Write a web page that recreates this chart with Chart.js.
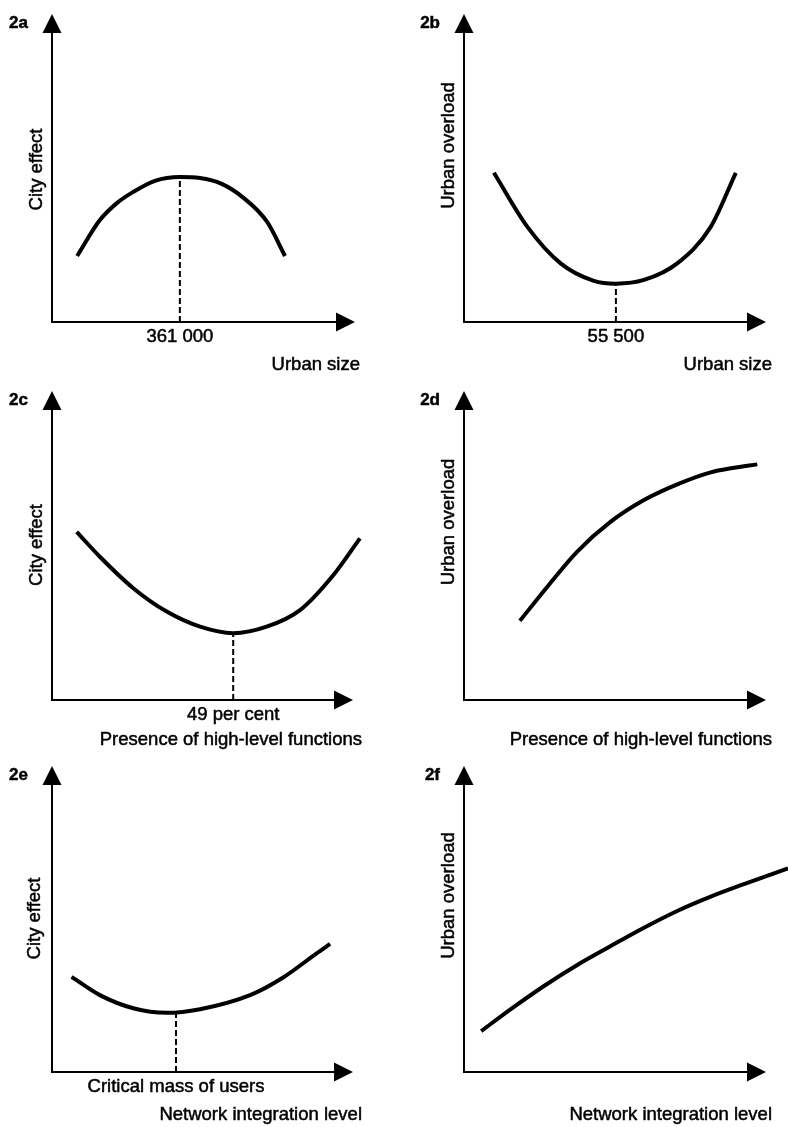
<!DOCTYPE html>
<html>
<head>
<meta charset="utf-8">
<script src="https://cdn.jsdelivr.net/npm/chart.js@4"></script>
<style>
    body { margin: 0; background: #fff; }
    #page { position: relative; width: 788px; height: 1127px; overflow: hidden; background: #fff; }
    #page canvas { position: absolute; }
</style>
</head>
<body>
<div id="page"></div>
<script>
// curve readings, in axis units (0..100 along each arrow)
const curveAx = [8.3, 15.8, 21.5, 26.7, 34.0, 42.2, 48.8, 56.0, 63.0, 71.0, 76.9];
const curveAy = [21.5, 33.2, 38.8, 42.3, 46.0, 47.2, 46.9, 45.0, 40.6, 32.6, 21.5];

const curveBx = [9.9, 21.0, 32.0, 43.0, 50.3, 59.6, 70.6, 81.7, 90.0];
const curveBy = [48.6, 31.0, 19.1, 13.4, 12.5, 13.7, 19.1, 31.0, 48.6];

const curveCx = [8.2, 15.9, 27.0, 38.1, 49.2, 60.2, 71.3, 82.4, 93.5, 102.3];
const curveCy = [54.6, 46.5, 36.3, 28.7, 23.8, 21.7, 23.8, 29.2, 40.6, 52.5];

const curveDx = [18.5, 27.6, 37.5, 48.6, 59.6, 70.6, 81.7, 89.0, 97.1];
const curveDy = [25.7, 36.8, 48.2, 57.9, 64.9, 70.0, 73.9, 75.3, 76.5];

const curveEx = [6.5, 15.9, 27.0, 38.1, 49.2, 65.8, 76.8, 87.9, 92.4];
const curveEy = [31.2, 25.2, 20.9, 19.4, 20.6, 25.2, 31.0, 38.9, 42.0];

const curveFx = [5.7, 15.5, 26.5, 37.5, 48.6, 59.6, 70.6, 81.7, 92.7, 107.3];
const curveFy = [13.4, 20.6, 28.2, 35.1, 41.3, 47.3, 52.8, 57.5, 61.6, 66.8];

// optimum markers (dashed drop line + label on the x axis)
const markerX = [42.2, 50.3, 60.2, null, 41.2, null];
const markerY = [47.2, 12.5, 21.7, null, 19.5, null];
const markerLabels = ["361 000", "55 500", "49 per cent", "", "Critical mass of users", ""];

const panelIds = ["2a", "2b", "2c", "2d", "2e", "2f"];
const yTitles = ["City effect", "Urban overload", "City effect", "Urban overload", "City effect", "Urban overload"];
const xTitles = ["Urban size", "Urban size", "Presence of high-level functions",
                 "Presence of high-level functions", "Network integration level", "Network integration level"];

const FONT = '"Liberation Sans", Arial, Helvetica, sans-serif';

// page layout: canvas box and axis box (origin -> arrow tips), absolute px
const layout = [
    {canvas: [0, 0, 394, 380],     axes: [52, 15, 355, 322],   yTitleDx: -15, yTitleDy: 1,   xTitleDx: 5, xTitleDy: 43},
    {canvas: [394, 0, 394, 380],   axes: [464, 15, 766, 322],  yTitleDx: -15, yTitleDy: -23, xTitleDx: 6, xTitleDy: 43},
    {canvas: [0, 372, 394, 380],   axes: [52, 392, 353, 700],  yTitleDx: -15, yTitleDy: -1,  xTitleDx: 9, xTitleDy: 40},
    {canvas: [394, 372, 394, 380], axes: [464, 392, 766, 700], yTitleDx: -15, yTitleDy: -24, xTitleDx: 6, xTitleDy: 40},
    {canvas: [0, 748, 394, 379],   axes: [52, 767, 353, 1072], yTitleDx: -17, yTitleDy: -1,  xTitleDx: 9, xTitleDy: 43},
    {canvas: [394, 748, 394, 379], axes: [464, 767, 766, 1072], yTitleDx: -15, yTitleDy: -24, xTitleDx: 6, xTitleDy: 43}
];

const curvesX = [curveAx, curveBx, curveCx, curveDx, curveEx, curveFx];
const curvesY = [curveAy, curveBy, curveCy, curveDy, curveEy, curveFy];

// scanned print is a bit heavier than the plain face, so the text gets a hairline stroke
function inkText(ctx, text, x, y) {
    ctx.fillText(text, x, y);
    ctx.strokeText(text, x, y);
}

const sketchAxes = {
    id: "sketchAxes",
    afterDraw(chart, args, opts) {
        const {ctx, chartArea: a, scales} = chart;
        const i = opts.index;
        const lay = layout[i];
        ctx.save();
        ctx.fillStyle = "#000";
        ctx.strokeStyle = "#000";
        ctx.lineWidth = 2;

        // axis lines
        ctx.beginPath();
        ctx.moveTo(a.left, a.top + 10);
        ctx.lineTo(a.left, a.bottom);
        ctx.lineTo(a.right - 10, a.bottom);
        ctx.stroke();

        // arrow heads
        ctx.beginPath();
        ctx.moveTo(a.left, a.top - 1);
        ctx.lineTo(a.left - 9.5, a.top + 18);
        ctx.lineTo(a.left + 9.5, a.top + 18);
        ctx.closePath();
        ctx.fill();
        ctx.beginPath();
        ctx.moveTo(a.right, a.bottom);
        ctx.lineTo(a.right - 19, a.bottom - 9.5);
        ctx.lineTo(a.right - 19, a.bottom + 9.5);
        ctx.closePath();
        ctx.fill();

        ctx.lineWidth = 0.5;
        ctx.lineJoin = "round";

        // panel number
        ctx.font = "bold 17px " + FONT;
        ctx.textAlign = "right";
        ctx.textBaseline = "middle";
        inkText(ctx, panelIds[i], a.left - 24, a.top + 8);

        ctx.font = "18.5px " + FONT;

        // y title
        ctx.save();
        ctx.translate(a.left + lay.yTitleDx, (a.top + a.bottom) / 2 + lay.yTitleDy);
        ctx.rotate(-Math.PI / 2);
        ctx.textAlign = "center";
        ctx.textBaseline = "middle";
        inkText(ctx, yTitles[i], 0, 0);
        ctx.restore();

        // marker label under the x axis
        if (markerX[i] !== null) {
            ctx.textAlign = "center";
            ctx.textBaseline = "middle";
            inkText(ctx, markerLabels[i], scales.x.getPixelForValue(markerX[i]), a.bottom + 15);
        }

        // x title
        ctx.textAlign = "right";
        inkText(ctx, xTitles[i], a.right + lay.xTitleDx, a.bottom + lay.xTitleDy);
        ctx.restore();
    }
};

function makePanel(i) {
    const lay = layout[i];
    const [cx, cy, cw, ch] = lay.canvas;
    const [l, t, r, b] = lay.axes;

    const canvas = document.createElement("canvas");
    canvas.width = cw;
    canvas.height = ch;
    canvas.style.left = cx + "px";
    canvas.style.top = cy + "px";
    document.getElementById("page").appendChild(canvas);

    const datasets = [{
        data: curvesX[i].map((x, k) => ({x: x, y: curvesY[i][k]})),
        borderColor: "#000",
        borderWidth: 4,
        cubicInterpolationMode: "monotone",
        pointRadius: 0,
        clip: false
    }];
    if (markerX[i] !== null) {
        datasets.push({
            data: [{x: markerX[i], y: 0}, {x: markerX[i], y: markerY[i]}],
            borderColor: "#000",
            borderWidth: 2,
            borderDash: [6, 3],
            pointRadius: 0
        });
    }

    return new Chart(canvas.getContext("2d"), {
        type: "line",
        data: {datasets: datasets},
        options: {
            responsive: false,
            animation: false,
            devicePixelRatio: 1,
            layout: {padding: {left: l - cx, top: t - cy, right: cx + cw - r, bottom: cy + ch - b}},
            scales: {
                x: {type: "linear", min: 0, max: 100, display: false},
                y: {type: "linear", min: 0, max: 100, display: false}
            },
            plugins: {
                legend: {display: false},
                tooltip: {enabled: false},
                sketchAxes: {index: i}
            }
        },
        plugins: [sketchAxes]
    });
}

window.addEventListener("DOMContentLoaded", () => {
    for (let i = 0; i < panelIds.length; i++) makePanel(i);
});
</script>
</body>
</html>
